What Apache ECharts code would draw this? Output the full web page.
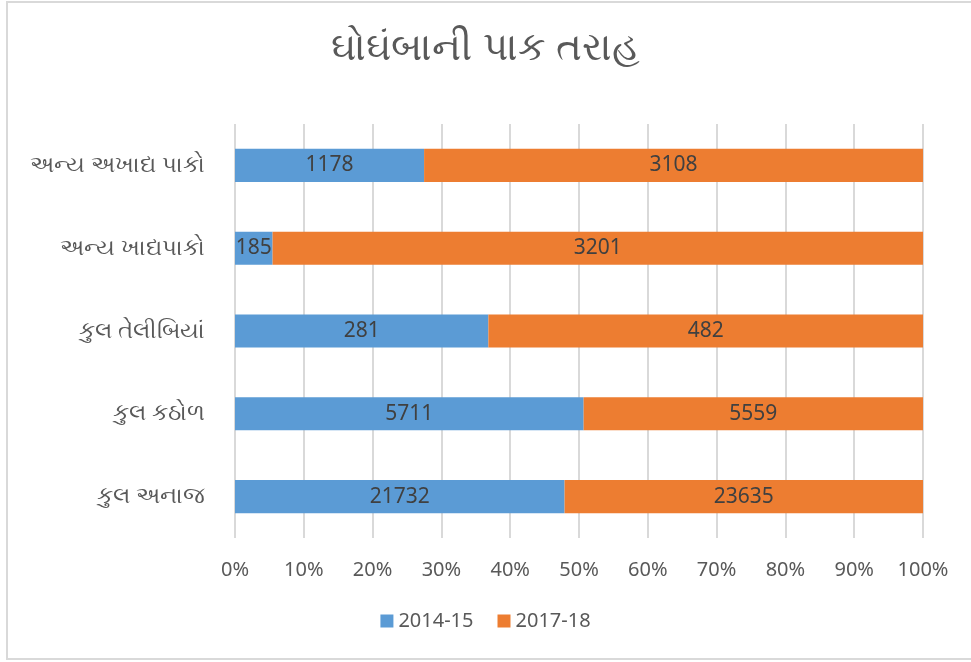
<!DOCTYPE html>
<html>
<head>
<meta charset="utf-8">
<script src="https://cdn.jsdelivr.net/npm/echarts@6/dist/echarts.min.js"></script>
<style>
  html, body { margin: 0; padding: 0; background: #fff; }
</style>
</head>
<body>
<div id="chart" style="width: 971px; height: 662px"></div>
<script>
// categories, bottom to top
var categories = ["કુલ અનાજ", "કુલ કઠોળ", "કુલ તેલીબિયાં", "અન્ય ખાદ્યપાકો", "અન્ય અખાદ્ય પાકો"];
var seriesNames = ["2014-15", "2017-18"];
var values2014 = [21732, 5711, 281, 185, 1178];
var values2017 = [23635, 5559, 482, 3201, 3108];

var totals = categories.map(function (c, i) {
  return values2014[i] + values2017[i];
});

// 100% stacked: bar length is share, label shows raw value
function toShare(vals) {
  return vals.map(function (v, i) {
    return { value: (v / totals[i]) * 100, raw: v };
  });
}

var font = "'Noto Sans', 'Liberation Sans', sans-serif";
var myChart = echarts.init(document.getElementById("chart"));

var option = {
  animation: false,
  color: ["#5B9BD5", "#ED7D31"],
  graphic: [{
    type: "rect",
    shape: { x: 7, y: 2, width: 975, height: 657 },
    style: { fill: "none", stroke: "#D9D9D9", lineWidth: 2 },
    silent: true
  }],
  title: {
    text: "ઘોઘંબાની પાક તરાહ",
    left: "center",
    top: 24,
    textStyle: { color: "#595959", fontSize: 39, fontWeight: "normal", fontFamily: font }
  },
  legend: {
    bottom: 26,
    left: "center",
    itemWidth: 13,
    itemHeight: 13,
    itemGap: 24,
    icon: "rect",
    textStyle: { color: "#595959", fontSize: 20, fontFamily: font }
  },
  grid: { left: 235, right: 48, top: 124, bottom: 124 },
  xAxis: {
    type: "value",
    min: 0,
    max: 100,
    interval: 10,
    axisLine: { show: false },
    axisTick: { show: false },
    splitLine: { lineStyle: { color: "#D9D9D9", width: 2 } },
    axisLabel: {
      formatter: "{value}%",
      color: "#595959",
      fontSize: 20,
      margin: 22,
      fontFamily: font
    }
  },
  yAxis: {
    type: "category",
    data: categories,
    axisLine: { show: false },
    axisTick: { show: false },
    axisLabel: { color: "#595959", fontSize: 23, margin: 30, fontFamily: font }
  },
  series: [
    {
      name: seriesNames[0],
      type: "bar",
      stack: "total",
      barWidth: "40%",
      data: toShare(values2014),
      label: {
        show: true,
        position: "inside",
        color: "#404040",
        fontSize: 21,
        fontFamily: font,
        formatter: function (p) { return p.data.raw; }
      }
    },
    {
      name: seriesNames[1],
      type: "bar",
      stack: "total",
      barWidth: "40%",
      data: toShare(values2017),
      label: {
        show: true,
        position: "inside",
        color: "#404040",
        fontSize: 21,
        fontFamily: font,
        formatter: function (p) { return p.data.raw; }
      }
    }
  ]
};

myChart.setOption(option);
</script>
</body>
</html>
